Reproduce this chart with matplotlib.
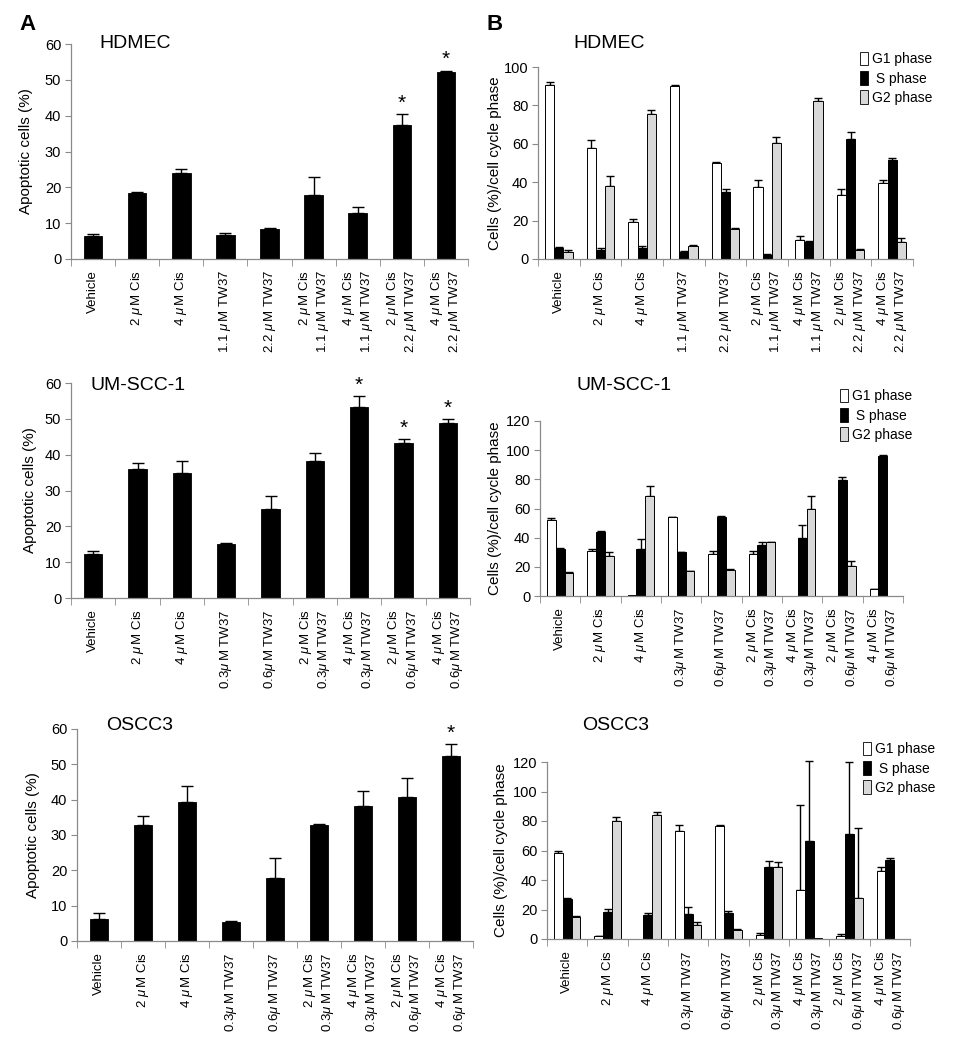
"""Apoptosis (A) and cell cycle phase (B) bar charts for HDMEC, UM-SCC-1, OSCC3."""

import numpy as np
import matplotlib
matplotlib.use("Agg")
import matplotlib.pyplot as plt
from matplotlib.patches import Patch

plt.rcParams.update({
    "font.family": ["Liberation Sans", "DejaVu Sans"],
    "mathtext.fontset": "custom",
    "mathtext.rm": "Liberation Sans",
    "mathtext.it": "Liberation Sans:italic",
    "font.size": 9.5,
    "axes.linewidth": 0.9,
})

W, H = 957, 1050
GRAY = "#8a8a8a"
G2_COLOR = "#d8d8d8"
MU = r"$\mu\:$"

LABELS_HDMEC = [
    "Vehicle", f"2 {MU}M Cis", f"4 {MU}M Cis", f"1.1 {MU}M TW37", f"2.2 {MU}M TW37",
    f"2 {MU}M Cis\n1.1 {MU}M TW37", f"4 {MU}M Cis\n1.1 {MU}M TW37",
    f"2 {MU}M Cis\n2.2 {MU}M TW37", f"4 {MU}M Cis\n2.2 {MU}M TW37",
]
LABELS_TW = [
    "Vehicle", f"2 {MU}M Cis", f"4 {MU}M Cis", f"0.3{MU}M TW37", f"0.6{MU}M TW37",
    f"2 {MU}M Cis\n0.3{MU}M TW37", f"4 {MU}M Cis\n0.3{MU}M TW37",
    f"2 {MU}M Cis\n0.6{MU}M TW37", f"4 {MU}M Cis\n0.6{MU}M TW37",
]

# ---- panel A: apoptotic cells (%) ----
HDMEC_APOP = [6.3, 18.4, 24.0, 6.7, 8.3, 18.0, 12.7, 37.5, 52.2]
HDMEC_APOP_ERR = [0.6, 0.3, 1.0, 0.6, 0.3, 4.8, 1.7, 3.0, 0.4]
HDMEC_STARS = [7, 8]

UM_APOP = [12.2, 36.1, 35.0, 15.0, 24.9, 38.1, 53.3, 43.2, 48.7]
UM_APOP_ERR = [0.9, 1.7, 3.3, 0.3, 3.6, 2.5, 3.0, 1.2, 1.3]
UM_STARS = [6, 7, 8]

OSCC_APOP = [6.1, 32.7, 39.2, 5.5, 17.7, 32.7, 38.3, 40.8, 52.3]
OSCC_APOP_ERR = [1.7, 2.8, 4.6, 0.3, 5.9, 0.4, 4.1, 5.4, 3.4]
OSCC_STARS = [8]

# ---- panel B: cells (%) per cell cycle phase ----
HDMEC_G1 = [90.8, 57.6, 19.2, 90.0, 50.0, 37.7, 10.0, 33.4, 39.8]
HDMEC_G1_ERR = [1.2, 4.4, 1.6, 0.5, 0.3, 3.5, 1.8, 2.9, 1.2]
HDMEC_S = [5.7, 4.8, 5.7, 3.8, 35.0, 2.2, 8.7, 62.6, 51.6]
HDMEC_S_ERR = [0.3, 0.7, 1.2, 0.2, 1.7, 0.2, 0.6, 3.8, 0.8]
HDMEC_G2 = [3.6, 38.2, 75.3, 6.7, 15.4, 60.2, 82.2, 4.5, 9.0]
HDMEC_G2_ERR = [0.9, 5.2, 2.2, 0.6, 0.7, 3.5, 1.7, 0.5, 1.7]

UM_G1 = [52.2, 30.8, 0.4, 54.0, 29.0, 29.0, 0.3, 0.3, 4.6]
UM_G1_ERR = [1.2, 1.4, 0, 0.3, 1.6, 1.6, 0, 0, 0.4]
UM_S = [32.2, 43.6, 31.9, 29.9, 54.0, 34.9, 40.1, 79.4, 95.8]
UM_S_ERR = [0.5, 1.1, 7.3, 0.4, 1.0, 1.8, 8.9, 2.5, 0.7]
UM_G2 = [16.0, 27.6, 68.4, 17.1, 18.0, 36.7, 60.0, 20.5, 0.2]
UM_G2_ERR = [0.2, 2.5, 7.3, 0.2, 0.3, 0.5, 8.6, 3.2, 0]

OSCC_G1 = [58.5, 1.8, 0.3, 73.5, 76.9, 2.9, 33.1, 1.8, 46.3]
OSCC_G1_ERR = [0.9, 0.3, 0, 3.6, 0.7, 1.2, 57.6, 1.8, 2.2]
OSCC_S = [27.4, 18.1, 16.3, 17.2, 17.7, 48.8, 66.4, 71.4, 53.3]
OSCC_S_ERR = [0.3, 2.3, 1.4, 4.3, 1.1, 4.3, 54.5, 48.3, 1.8]
OSCC_G2 = [15.0, 80.3, 84.1, 9.8, 6.3, 48.5, 0.5, 27.7, 0.2]
OSCC_G2_ERR = [0.4, 2.2, 2.1, 2.0, 0.3, 3.7, 0, 47.8, 0]

PHASES = ["G1 phase", " S phase", "G2 phase"]


def px_axes(fig, left, right, top, bottom):
    return fig.add_axes([left / W, 1 - bottom / H, (right - left) / W, (bottom - top) / H])


def style_axes(ax, labels, ymax, ystep):
    n = len(labels)
    ax.set_xlim(-0.5, n - 0.5)
    ax.set_ylim(0, ymax)
    ax.set_yticks(np.arange(0, ymax + 1, ystep))
    ax.set_xticks(np.arange(n))
    ax.set_xticklabels(labels, rotation=90, ha="center", va="top", multialignment="right")
    ax.set_xticks(np.arange(n + 1) - 0.5, minor=True)
    ax.tick_params(axis="x", which="major", length=0, pad=8, labelsize=9.5)
    ax.tick_params(axis="x", which="minor", length=5, color=GRAY, direction="out")
    ax.tick_params(axis="y", length=4, color=GRAY, labelsize=10.5, pad=3)
    for s in ("top", "right"):
        ax.spines[s].set_visible(False)
    for s in ("left", "bottom"):
        ax.spines[s].set_color(GRAY)


def draw_err(ax, x, y, err, capsize):
    x, y, err = np.asarray(x), np.asarray(y), np.asarray(err)
    m = err > 0
    eb = ax.errorbar(x[m], y[m], yerr=[np.zeros(m.sum()), err[m]], fmt="none",
                     ecolor="black", elinewidth=1.0, capsize=capsize, capthick=1.0, zorder=1)
    for art in eb.lines[1] + eb.lines[2]:
        art.set_clip_on(False)


def apoptosis_panel(fig, box, title, title_xy, labels, vals, errs, stars, ylab_x):
    ax = px_axes(fig, *box)
    x = np.arange(len(vals))
    draw_err(ax, x, vals, errs, 4.5)
    ax.bar(x, vals, width=0.42, color="black", edgecolor="black", linewidth=0.6, zorder=2)
    for i in stars:
        ax.annotate("*", (i, vals[i] + errs[i]), xytext=(0, 1), textcoords="offset points",
                    ha="center", va="bottom", fontsize=15)
    style_axes(ax, labels, 60, 10)
    ax.set_ylabel("Apoptotic cells (%)", fontsize=11)
    ax.yaxis.set_label_coords(ylab_x, 0.5)
    fig.text(title_xy[0] / W, 1 - title_xy[1] / H, title, fontsize=14, ha="left", va="center")
    return ax


def cycle_panel(fig, box, title, title_xy, labels, series, ymax, ylab_x, leg_xy):
    ax = px_axes(fig, *box)
    n = len(labels)
    x = np.arange(n)
    w = 0.22
    faces = ["white", "black", G2_COLOR]
    for k, (vals, errs) in enumerate(series):
        xs = x + (k - 1) * w
        draw_err(ax, xs, vals, errs, 3)
        ax.bar(xs, vals, width=w, color=faces[k], edgecolor="black", linewidth=0.7, zorder=2)
    style_axes(ax, labels, ymax, 20)
    ax.set_ylabel("Cells (%)/cell cycle phase", fontsize=11)
    ax.yaxis.set_label_coords(ylab_x, 0.5)
    fig.text(title_xy[0] / W, 1 - title_xy[1] / H, title, fontsize=14, ha="left", va="center")
    handles = [Patch(facecolor=c, edgecolor="black", linewidth=0.6) for c in faces]
    fig.legend(handles, PHASES, loc="upper left", bbox_to_anchor=(leg_xy[0] / W, 1 - leg_xy[1] / H),
               frameon=False, fontsize=10, handlelength=0.6, handleheight=1.1,
               handletextpad=0.3, labelspacing=0.35, borderpad=0)
    return ax


fig = plt.figure(figsize=(W / 100, H / 100), dpi=100)

apoptosis_panel(fig, (71, 468, 44, 259), "HDMEC", (99, 44), LABELS_HDMEC,
                HDMEC_APOP, HDMEC_APOP_ERR, HDMEC_STARS, -0.095)
apoptosis_panel(fig, (71, 470, 383, 598), "UM-SCC-1", (90, 385), LABELS_TW,
                UM_APOP, UM_APOP_ERR, UM_STARS, -0.085)
apoptosis_panel(fig, (77, 473, 729, 941), "OSCC3", (106, 725), LABELS_TW,
                OSCC_APOP, OSCC_APOP_ERR, OSCC_STARS, -0.093)

cycle_panel(fig, (538, 913, 67, 259), "HDMEC", (573, 44), LABELS_HDMEC,
            [(HDMEC_G1, HDMEC_G1_ERR), (HDMEC_S, HDMEC_S_ERR), (HDMEC_G2, HDMEC_G2_ERR)],
            100, -0.096, (853, 45))
cycle_panel(fig, (540, 903, 421, 596), "UM-SCC-1", (576, 385), LABELS_TW,
            [(UM_G1, UM_G1_ERR), (UM_S, UM_S_ERR), (UM_G2, UM_G2_ERR)],
            120, -0.105, (833, 382))
cycle_panel(fig, (547, 910, 762, 939), "OSCC3", (582, 725), LABELS_TW,
            [(OSCC_G1, OSCC_G1_ERR), (OSCC_S, OSCC_S_ERR), (OSCC_G2, OSCC_G2_ERR)],
            120, -0.107, (856, 735))

fig.text(27 / W, 1 - 24 / H, "A", fontsize=16, fontweight="bold", ha="center", va="center")
fig.text(495 / W, 1 - 24 / H, "B", fontsize=16, fontweight="bold", ha="center", va="center")

fig.savefig("out.png", dpi=100, facecolor="white")
